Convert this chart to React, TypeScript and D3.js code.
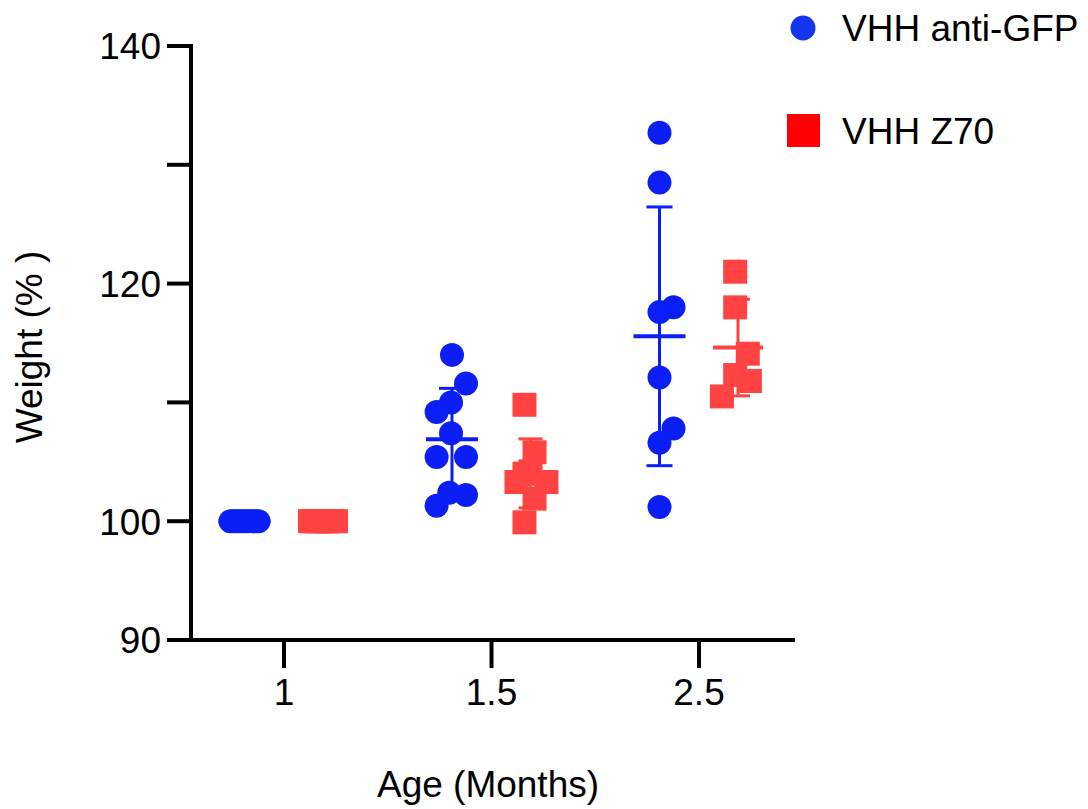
import React from "react";
import * as d3 from "d3";

// ---- data ----
const categories = ["1", "1.5", "2.5"];
const yTicks = [90, 100, 110, 120, 130, 140];
const yTickLabels = [90, 100, 120, 140];
const seriesNames = ["VHH anti-GFP", "VHH Z70"];

const antiGFP = [
  [100, 100, 100, 100, 100, 100, 100, 100, 100, 100],
  [114.0, 111.6, 110.0, 109.2, 107.4, 105.4, 105.4, 102.4, 102.2, 101.3],
  [132.7, 128.5, 118.0, 117.6, 112.1, 107.8, 106.6, 101.2],
];
// horizontal scatter column (in dot-spacing units)
const antiGFPJitter = [
  [-1, -0.78, -0.56, -0.33, -0.11, 0.11, 0.33, 0.56, 0.78, 1],
  [0, 1, -0.07, -1.1, -0.07, -1.1, 1, -0.2, 1, -1.1],
  [0, 0, 1, 0, 0, 1, 0, 0],
];

const z70 = [
  [100, 100, 100, 100, 100, 100, 100, 100],
  [109.8, 105.8, 104.2, 104.0, 103.3, 103.3, 101.9, 99.9],
  [121.0, 118.0, 114.1, 112.3, 111.8, 110.5],
];
const z70Jitter = [
  [-0.93, -0.66, -0.4, -0.13, 0.13, 0.4, 0.66, 0.93],
  [-0.43, 0.29, 0, -0.43, -1.0, 1.14, 0.29, -0.43],
  [-0.2, -0.2, 0.7, -0.2, 0.85, -1.15],
];

// ---- styling ----
const W = 1088;
const H = 809;
const FONT = "'Liberation Sans', Arial, Helvetica, sans-serif";
const FS = 37;
const BLUE = "#0a1ef5";
const RED = "#ff4343";
const BLUE_LEG = "#1436f0";
const RED_LEG = "#ff0000";

export default function App() {
  const y = d3.scaleLinear().domain([90, 140]).range([640, 46]);
  const x = d3.scalePoint<string>().domain(categories).range([284, 699]);
  const dodge = d3.scalePoint<string>().domain(seriesNames).range([-39.5, 39]);
  const jitterStep = 14;

  const axisX0 = 191;
  const axisX1 = 795;
  const axisY = y(90);

  const renderErr = (vals: number[], cx: number, color: string, capW: number, meanW: number, key: string) => {
    const m = d3.mean(vals) as number;
    const sd = vals.length > 1 ? (d3.deviation(vals) as number) : 0;
    return (
      <g key={key} stroke={color} fill="none">
        <line x1={cx} x2={cx} y1={y(m - sd)} y2={y(m + sd)} strokeWidth={3} />
        <line x1={cx - capW / 2} x2={cx + capW / 2} y1={y(m + sd)} y2={y(m + sd)} strokeWidth={3} />
        <line x1={cx - capW / 2} x2={cx + capW / 2} y1={y(m - sd)} y2={y(m - sd)} strokeWidth={3} />
        <line x1={cx - meanW / 2} x2={cx + meanW / 2} y1={y(m)} y2={y(m)} strokeWidth={4} />
      </g>
    );
  };

  const txt = (s: string, tx: number, ty: number, anchor: string, extra: any = {}) => (
    <text
      x={tx}
      y={ty}
      textAnchor={anchor as any}
      fontFamily={FONT}
      fontSize={FS}
      fill="#000"
      {...extra}
    >
      {s}
    </text>
  );

  return (
    <svg
      width={W}
      height={H}
      viewBox={`0 0 ${W} ${H}`}
      style={{ position: "absolute", left: 0, top: 0, background: "#fff" }}
    >
      <rect x={0} y={0} width={W} height={H} fill="#fff" />

      {/* y axis */}
      <line x1={axisX0} x2={axisX0} y1={y(140) - 2} y2={axisY + 2} stroke="#000" strokeWidth={4} />
      {yTicks.map((t) => (
        <line key={"yt" + t} x1={167} x2={axisX0} y1={y(t)} y2={y(t)} stroke="#000" strokeWidth={4} />
      ))}
      {yTickLabels.map((t) => (
        <g key={"yl" + t}>{txt(String(t), 161, y(t), "end", { dy: "0.36em" })}</g>
      ))}

      {/* x axis */}
      <line x1={axisX0 - 2} x2={axisX1} y1={axisY} y2={axisY} stroke="#000" strokeWidth={4} />
      {categories.map((c) => (
        <line key={"xt" + c} x1={x(c)} x2={x(c)} y1={axisY} y2={axisY + 28} stroke="#000" strokeWidth={4} />
      ))}
      {categories.map((c) => (
        <g key={"xl" + c}>{txt(c, x(c) as number, 705, "middle")}</g>
      ))}

      {/* axis titles */}
      {txt("Age (Months)", 488, 797, "middle")}
      {txt("Weight (% )", 0, 0, "middle", { transform: `translate(42,347) rotate(-90)` })}

      {/* anti-GFP circles */}
      {categories.map((c, i) => {
        const cx = (x(c) as number) + (dodge(seriesNames[0]) as number);
        return (
          <g key={"b" + c}>
            {antiGFP[i].map((v, j) => (
              <circle key={j} cx={cx + antiGFPJitter[i][j] * jitterStep} cy={y(v)} r={12} fill={BLUE} />
            ))}
            {renderErr(antiGFP[i], cx, BLUE, 26, 52, "be" + c)}
          </g>
        );
      })}

      {/* Z70 squares */}
      {categories.map((c, i) => {
        const cx = (x(c) as number) + (dodge(seriesNames[1]) as number);
        const s = 24;
        return (
          <g key={"r" + c}>
            {z70[i].map((v, j) => (
              <rect
                key={j}
                x={cx + z70Jitter[i][j] * jitterStep - s / 2}
                y={y(v) - s / 2}
                width={s}
                height={s}
                fill={RED}
              />
            ))}
            {renderErr(z70[i], cx, RED, 24, 50, "re" + c)}
          </g>
        );
      })}

      {/* legend */}
      <circle cx={803} cy={28} r={12.5} fill={BLUE_LEG} />
      {txt(seriesNames[0], 842, 28, "start", { dy: "0.36em" })}
      <rect x={787} y={114} width={33} height={33} fill={RED_LEG} />
      {txt(seriesNames[1], 842, 131, "start", { dy: "0.36em" })}
    </svg>
  );
}
